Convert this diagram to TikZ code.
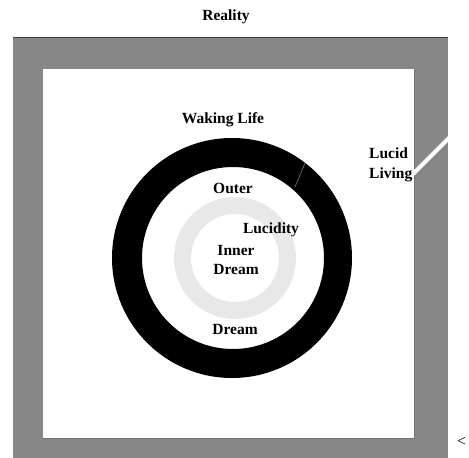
\documentclass[tikz,border=0pt]{standalone}
\usepackage{fontspec}
\setmainfont{Liberation Serif}
\begin{document}
\begin{tikzpicture}[x=1pt,y=-1pt,
  lbl/.style={font=\fontsize{15.5}{16}\selectfont\bfseries, inner sep=0pt, align=center},
  framegray/.style={fill=black!47},
]
\useasboundingbox (0,0) rectangle (469,458);
% frame
\fill[framegray] (13,37) rectangle (448,462);
\draw[black!75, line width=0.8pt] (13,37) -- (448,37);
\fill[white] (43,69) rectangle (414,438);
\draw[black!55, line width=0.6pt] (43,438) -- (414,438) -- (414,69);
% white slash
\draw[white, line width=4pt] (413,174) -- (450,137);
% black ring
\fill[black, even odd rule] (232,258) circle[radius=120] (233,258) circle[radius=91];
\draw[black!45, line width=0.5pt] (305,163) -- (295,187);
% light gray ring
\fill[black!9, even odd rule] (235,258) circle[radius=61] (235,258) circle[radius=44];
% labels
\node[lbl] (reality) at (226,17) {Reality};
\node[lbl] (waking) at (223,120) {Waking Life};
\node[lbl] (outer) at (233,188) {Outer};
\node[lbl] (lucidity) at (271,230) {Lucidity};
\node[lbl] (inner) at (236,260) {Inner\\[3pt]Dream};
\node[lbl] (dream) at (235,329) {Dream};
\node[lbl, align=left, anchor=west] (lucid) at (369,165) {Lucid\\[4pt]Living};
\node[font=\fontsize{16}{16}\selectfont, inner sep=0pt, anchor=west] (edge) at (457,442) {<};
\end{tikzpicture}
\end{document}
